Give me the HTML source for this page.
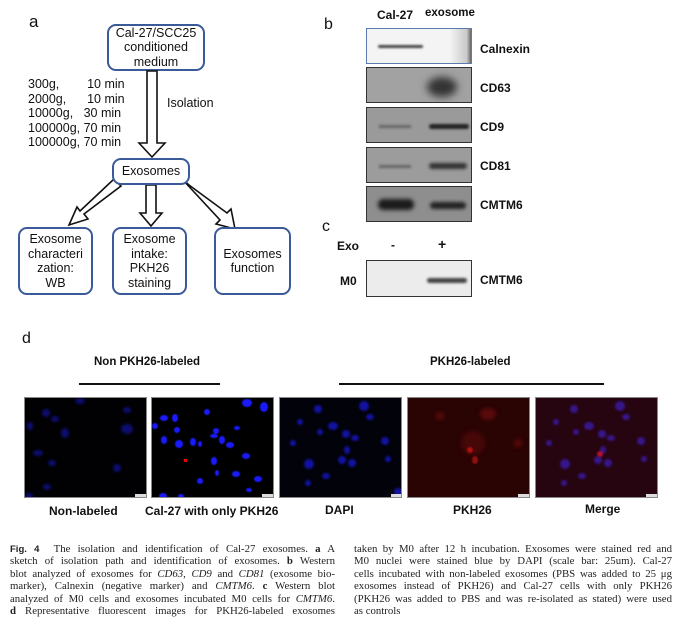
<!DOCTYPE html>
<html><head><meta charset="utf-8"><style>
body{margin:0;width:682px;height:627px;background:#fff;position:relative;overflow:hidden;font-family:"Liberation Sans",Arial,sans-serif;color:#111}
.a{position:absolute;white-space:nowrap}
.box{position:absolute;border:2px solid #3a5a9a;border-radius:9px;box-sizing:border-box;display:flex;align-items:center;justify-content:center;text-align:center;font-size:12.5px;line-height:14.5px;background:#fff}
.blot{position:absolute;left:366px;width:106px;border:1px solid #333;box-sizing:border-box;overflow:hidden}
.lbl{position:absolute;left:480px;font-weight:bold;font-size:12px}
.b{font-weight:bold;font-size:12px}
.pan{position:absolute;top:397px;width:123px;height:101px;border:1px solid #888;box-sizing:border-box;overflow:hidden}
.cap{position:absolute;top:543px;font-family:"Liberation Serif",serif;font-size:10.8px;line-height:12.4px;color:#222}
.cap p{margin:0;text-align:justify;text-align-last:justify;white-space:nowrap;height:12.4px}
.cap p.l{text-align-last:left}
</style></head><body>
<div class="a" style="left:29px;top:12px;font-size:17px">a</div>
<div class="box" style="left:107px;top:24px;width:98px;height:47px">Cal-27/SCC25<br>conditioned<br>medium</div>
<div class="a" style="left:28px;top:77px;font-size:12.5px;line-height:14.6px">300g,&nbsp;&nbsp;&nbsp;&nbsp;&nbsp;&nbsp;&nbsp; 10 min<br>2000g,&nbsp;&nbsp;&nbsp;&nbsp;&nbsp; 10 min<br>10000g,&nbsp;&nbsp; 30 min<br>100000g, 70 min<br>100000g, 70 min</div>
<div class="a" style="left:167px;top:96px;font-size:12.5px">Isolation</div>
<svg class="a" style="left:0;top:0" width="320" height="300">
<g fill="#fff" stroke="#111" stroke-width="1.6" stroke-linejoin="miter">
<polygon points="147,71 157,71 157,143 165,143 152,157 139,143 147,143"/>
<polygon points="146,185 156,185 156,213 162,213 151,226 140,213 146,213"/>
<polygon points="114,179 121,186 84,214 88,219 69,225 77,207 80,211"/>
<polygon points="182,179 189,185 227,213 231,209 235,229 216,224 220,220"/>
</g></svg>
<div class="box" style="left:112px;top:158px;width:78px;height:27px">Exosomes</div>
<div class="box" style="left:18px;top:227px;width:75px;height:68px">Exosome<br>characteri<br>zation:<br>WB</div>
<div class="box" style="left:112px;top:227px;width:75px;height:68px">Exosome<br>intake:<br>PKH26<br>staining</div>
<div class="box" style="left:214px;top:227px;width:77px;height:68px">Exosomes<br>function</div>

<div class="a" style="left:324px;top:16px;font-size:16px">b</div>
<div class="a b" style="left:377px;top:8px">Cal-27</div>
<div class="a b" style="left:425px;top:7px;font-size:11.5px">exosome</div>
<div class="blot" style="top:28px;height:36px;background:linear-gradient(90deg,#f4f4f4 80%,#c8c8c8 96%,#666);border-color:#5a7ab0">
<div class="a" style="left:11px;top:16px;width:45px;height:3px;background:#444;border-radius:2px;filter:blur(1px)"></div></div>
<div class="lbl" style="top:42px">Calnexin</div>
<div class="blot" style="top:67px;height:36px;background:#a2a2a2">
<div class="a" style="left:60px;top:9px;width:30px;height:20px;background:#333;border-radius:50%;filter:blur(4px)"></div></div>
<div class="lbl" style="top:81px">CD63</div>
<div class="blot" style="top:107px;height:36px;background:#9a9a9a">
<div class="a" style="left:12px;top:17px;width:32px;height:3px;background:#666;filter:blur(1.3px)"></div>
<div class="a" style="left:62px;top:16px;width:40px;height:5px;background:#222;border-radius:3px;filter:blur(1.3px)"></div></div>
<div class="lbl" style="top:120px">CD9</div>
<div class="blot" style="top:147px;height:36px;background:#9c9c9c">
<div class="a" style="left:12px;top:17px;width:32px;height:3px;background:#666;filter:blur(1.3px)"></div>
<div class="a" style="left:62px;top:15px;width:38px;height:6px;background:#333;border-radius:3px;filter:blur(1.5px)"></div></div>
<div class="lbl" style="top:159px">CD81</div>
<div class="blot" style="top:186px;height:36px;background:#8e8e8e">
<div class="a" style="left:11px;top:12px;width:36px;height:11px;background:#1a1a1a;border-radius:5px;filter:blur(2px)"></div>
<div class="a" style="left:63px;top:15px;width:36px;height:7px;background:#222;border-radius:4px;filter:blur(1.8px)"></div></div>
<div class="lbl" style="top:198px">CMTM6</div>
<div class="a" style="left:322px;top:218px;font-size:16px">c</div>
<div class="a b" style="left:337px;top:239px">Exo</div>
<div class="a b" style="left:391px;top:238px">-</div>
<div class="a b" style="left:438px;top:236px;font-size:14px">+</div>
<div class="a b" style="left:340px;top:274px">M0</div>
<div class="blot" style="top:260px;height:37px;background:#ececec">
<div class="a" style="left:60px;top:17px;width:40px;height:5px;background:#444;border-radius:3px;filter:blur(1.3px)"></div></div>
<div class="lbl" style="top:273px">CMTM6</div>

<div class="a" style="left:22px;top:330px;font-size:16px">d</div>
<div class="a b" style="left:94px;top:356px;font-size:11.5px">Non PKH26-labeled</div>
<div class="a" style="left:79px;top:383px;width:141px;height:2px;background:#111"></div>
<div class="a b" style="left:430px;top:356px;font-size:11.5px">PKH26-labeled</div>
<div class="a" style="left:339px;top:383px;width:265px;height:2px;background:#111"></div>

<div class="pan" style="left:24px;background:#010104"><svg width="123" height="101"><g fill="#10108a" opacity=".8" style="filter:blur(1.2px)">
<ellipse cx="21" cy="15" rx="4" ry="4"/><ellipse cx="30" cy="21" rx="4" ry="3"/><ellipse cx="5" cy="28" rx="3" ry="4"/><ellipse cx="40" cy="35" rx="4" ry="5"/><ellipse cx="102" cy="31" rx="6" ry="5"/><ellipse cx="13" cy="55" rx="5" ry="3"/><ellipse cx="27" cy="65" rx="4" ry="3"/><ellipse cx="92" cy="70" rx="4" ry="4"/><ellipse cx="22" cy="89" rx="4" ry="3"/><ellipse cx="102" cy="12" rx="4" ry="3"/><ellipse cx="55" cy="3" rx="5" ry="3"/><ellipse cx="4" cy="98" rx="4" ry="3"/></g>
<rect x="110" y="96" width="11" height="3" fill="#ddd"/></svg></div>
<div class="pan" style="left:151px;background:#000"><svg width="123" height="101"><g fill="#1a1aff" style="filter:blur(.5px)">
<ellipse cx="95" cy="5" rx="5" ry="4"/><ellipse cx="112" cy="9" rx="4" ry="5"/><ellipse cx="55" cy="14" rx="3" ry="3"/><ellipse cx="12" cy="20" rx="4" ry="3"/><ellipse cx="23" cy="20" rx="3" ry="4"/><ellipse cx="3" cy="28" rx="3" ry="3"/><ellipse cx="25" cy="32" rx="3" ry="3"/><ellipse cx="12" cy="42" rx="3" ry="4"/><ellipse cx="27" cy="46" rx="4" ry="4"/><ellipse cx="41" cy="44" rx="3" ry="4"/><ellipse cx="48" cy="46" rx="2" ry="3"/><ellipse cx="64" cy="33" rx="3" ry="3"/><ellipse cx="62" cy="38" rx="4" ry="2"/><ellipse cx="70" cy="42" rx="3" ry="4"/><ellipse cx="78" cy="47" rx="4" ry="3"/><ellipse cx="85" cy="30" rx="3" ry="2"/><ellipse cx="94" cy="58" rx="4" ry="3"/><ellipse cx="62" cy="63" rx="3" ry="4"/><ellipse cx="65" cy="75" rx="2" ry="3"/><ellipse cx="84" cy="76" rx="4" ry="3"/><ellipse cx="106" cy="81" rx="4" ry="3"/><ellipse cx="48" cy="83" rx="3" ry="3"/><ellipse cx="97" cy="92" rx="3" ry="2"/><ellipse cx="11" cy="98" rx="4" ry="3"/><ellipse cx="29" cy="98" rx="3" ry="2"/></g>
<rect x="32" y="61" width="3" height="3" fill="#e00"/><rect x="110" y="96" width="11" height="3" fill="#ddd"/></svg></div>
<div class="pan" style="left:279px;background:#02020a"><svg width="124" height="101"><g fill="#1212a0" style="filter:blur(1px)">
<ellipse cx="38" cy="11" rx="4" ry="4"/><ellipse cx="84" cy="8" rx="5" ry="5"/><ellipse cx="90" cy="19" rx="4" ry="3"/><ellipse cx="20" cy="24" rx="3" ry="3"/><ellipse cx="53" cy="28" rx="5" ry="4"/><ellipse cx="40" cy="34" rx="3" ry="3"/><ellipse cx="66" cy="36" rx="4" ry="4"/><ellipse cx="75" cy="40" rx="4" ry="3"/><ellipse cx="13" cy="45" rx="3" ry="3"/><ellipse cx="105" cy="43" rx="4" ry="4"/><ellipse cx="67" cy="52" rx="3" ry="4"/><ellipse cx="62" cy="62" rx="4" ry="4"/><ellipse cx="72" cy="65" rx="4" ry="4"/><ellipse cx="108" cy="61" rx="3" ry="3"/><ellipse cx="29" cy="66" rx="5" ry="5"/><ellipse cx="46" cy="78" rx="4" ry="3"/><ellipse cx="28" cy="85" rx="3" ry="3"/><ellipse cx="118" cy="94" rx="4" ry="4"/></g>
<rect x="111" y="96" width="11" height="3" fill="#ddd"/></svg></div>
<div class="pan" style="left:407px;background:#2a0303"><svg width="123" height="101"><g fill="#5a0a0a" style="filter:blur(2px)">
<ellipse cx="80" cy="16" rx="8" ry="6"/><ellipse cx="65" cy="45" rx="12" ry="12" opacity=".6"/><ellipse cx="110" cy="45" rx="4" ry="4"/><ellipse cx="32" cy="18" rx="4" ry="4"/></g>
<ellipse cx="62" cy="52" rx="3" ry="3" fill="#b01010" style="filter:blur(.8px)"/><ellipse cx="67" cy="62" rx="3" ry="4" fill="#901010" style="filter:blur(.8px)"/>
<rect x="110" y="96" width="11" height="3" fill="#ddd"/></svg></div>
<div class="pan" style="left:535px;background:#260410"><svg width="123" height="101"><g fill="#3a1aa0" opacity=".85" style="filter:blur(1px)">
<ellipse cx="38" cy="11" rx="4" ry="4"/><ellipse cx="84" cy="8" rx="5" ry="5"/><ellipse cx="90" cy="19" rx="4" ry="3"/><ellipse cx="20" cy="24" rx="3" ry="3"/><ellipse cx="53" cy="28" rx="5" ry="4"/><ellipse cx="40" cy="34" rx="3" ry="3"/><ellipse cx="66" cy="36" rx="4" ry="4"/><ellipse cx="75" cy="40" rx="4" ry="3"/><ellipse cx="13" cy="45" rx="3" ry="3"/><ellipse cx="105" cy="43" rx="4" ry="4"/><ellipse cx="67" cy="52" rx="3" ry="4"/><ellipse cx="62" cy="62" rx="4" ry="4"/><ellipse cx="72" cy="65" rx="4" ry="4"/><ellipse cx="108" cy="61" rx="3" ry="3"/><ellipse cx="29" cy="66" rx="5" ry="5"/><ellipse cx="46" cy="78" rx="4" ry="3"/><ellipse cx="28" cy="85" rx="3" ry="3"/></g>
<ellipse cx="64" cy="56" rx="3" ry="3" fill="#b01030" style="filter:blur(.8px)"/><rect x="110" y="96" width="11" height="3" fill="#ddd"/></svg></div>
<div class="a b" style="left:49px;top:504px">Non-labeled</div>
<div class="a b" style="left:145px;top:504px">Cal-27 with only PKH26</div>
<div class="a b" style="left:325px;top:503px">DAPI</div>
<div class="a b" style="left:453px;top:503px">PKH26</div>
<div class="a b" style="left:585px;top:502px">Merge</div>

<div class="cap" style="left:10px;width:325px">
<p><b style="font-family:'Liberation Sans',sans-serif;font-size:9.5px">Fig. 4</b>&nbsp; The isolation and identification of Cal-27 exosomes. <b>a</b> A</p>
<p>sketch of isolation path and identification of exosomes. <b>b</b> Western</p>
<p>blot analyzed of exosomes for <i>CD63</i>, <i>CD9</i> and <i>CD81</i> (exosome bio-</p>
<p>marker), Calnexin (negative marker) and <i>CMTM6</i>. <b>c</b> Western blot</p>
<p>analyzed of M0 cells and exosomes incubated M0 cells for <i>CMTM6</i>.</p>
<p><b>d</b> Representative fluorescent images for PKH26-labeled exosomes</p>
</div>
<div class="cap" style="left:354px;width:318px">
<p>taken by M0 after 12 h incubation. Exosomes were stained red and</p>
<p>M0 nuclei were stained blue by DAPI (scale bar: 25um). Cal-27</p>
<p>cells incubated with non-labeled exosomes (PBS was added to 25 μg</p>
<p>exosomes instead of PKH26) and Cal-27 cells with only PKH26</p>
<p>(PKH26 was added to PBS and was re-isolated as stated) were used</p>
<p class="l">as controls</p>
</div>
</body></html>
